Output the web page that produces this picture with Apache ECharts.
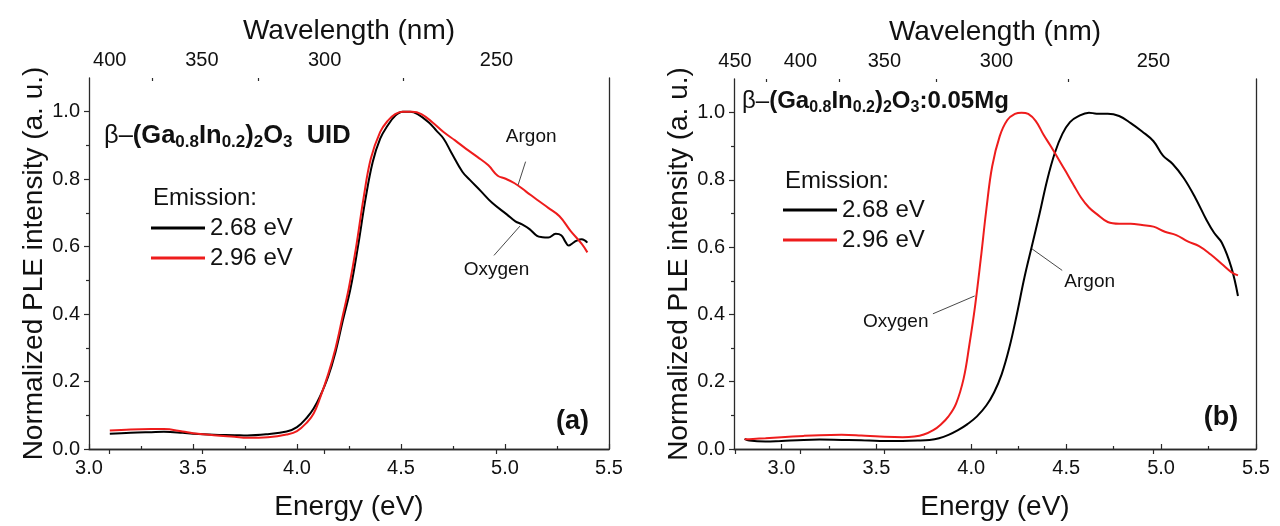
<!DOCTYPE html>
<html><head><meta charset="utf-8">
<script src="https://cdn.jsdelivr.net/npm/echarts@6/dist/echarts.min.js"></script>
<style>html,body{margin:0;padding:0;background:#fff}#c{width:1280px;height:526px}</style>
</head><body><div id="c"></div>
<script>
// ---------- data ----------
const seriesNames = ['2.68 eV', '2.96 eV'];
const energyTicks = [3.0, 3.5, 4.0, 4.5, 5.0, 5.5];
const energyMinorTicks = [3.25, 3.75, 4.25, 4.75, 5.25];
const wavelengthTicksA = [400, 350, 300, 250];
const wavelengthMinorA = [375, 325, 275];
const wavelengthTicksB = [450, 400, 350, 300, 250];
const wavelengthMinorB = [425, 375, 325, 275];
const yTicks = [0, 0.2, 0.4, 0.6, 0.8, 1.0];
const yMinorTicks = [0.1, 0.3, 0.5, 0.7, 0.9];

// Panel (a) UID: [energy eV, normalized PLE]
const uid268 = [[3.10,0.045],[3.20,0.048],[3.30,0.050],[3.36,0.051],[3.45,0.048],[3.50,0.045],[3.60,0.042],[3.70,0.041],[3.76,0.040],[3.86,0.044],[3.95,0.052],[4.00,0.065],[4.05,0.095],[4.08,0.120],[4.11,0.155],[4.15,0.215],[4.185,0.287],[4.22,0.380],[4.257,0.475],[4.293,0.600],[4.329,0.740],[4.364,0.851],[4.40,0.920],[4.436,0.959],[4.472,0.988],[4.508,1.0],[4.544,1.0],[4.58,0.993],[4.634,0.968],[4.67,0.944],[4.705,0.920],[4.741,0.880],[4.795,0.822],[4.831,0.798],[4.885,0.764],[4.938,0.730],[5.01,0.695],[5.05,0.675],[5.082,0.666],[5.118,0.652],[5.154,0.632],[5.18,0.628],[5.208,0.627],[5.244,0.638],[5.27,0.634],[5.29,0.615],[5.306,0.603],[5.325,0.610],[5.342,0.617],[5.369,0.622],[5.396,0.612]];
const uid296 = [[3.10,0.055],[3.20,0.058],[3.30,0.059],[3.36,0.059],[3.45,0.052],[3.50,0.047],[3.60,0.041],[3.70,0.036],[3.76,0.033],[3.86,0.035],[3.95,0.043],[4.00,0.053],[4.05,0.080],[4.08,0.105],[4.11,0.150],[4.15,0.222],[4.185,0.298],[4.22,0.395],[4.25,0.480],[4.284,0.598],[4.32,0.744],[4.355,0.861],[4.40,0.940],[4.436,0.973],[4.472,0.993],[4.508,1.0],[4.553,1.0],[4.598,0.993],[4.652,0.968],[4.706,0.939],[4.76,0.915],[4.813,0.890],[4.867,0.866],[4.92,0.841],[4.965,0.810],[5.0,0.802],[5.046,0.788],[5.10,0.764],[5.154,0.739],[5.208,0.715],[5.262,0.690],[5.315,0.647],[5.369,0.608],[5.396,0.583]];
// Panel (b) 0.05Mg
const mg268 = [[2.806,0.030],[2.83,0.025],[2.916,0.022],[3.0,0.024],[3.117,0.027],[3.2,0.028],[3.317,0.027],[3.42,0.026],[3.518,0.024],[3.638,0.024],[3.718,0.025],[3.78,0.027],[3.83,0.032],[3.88,0.042],[3.93,0.056],[3.98,0.074],[4.03,0.097],[4.08,0.130],[4.12,0.168],[4.16,0.222],[4.20,0.300],[4.24,0.400],[4.28,0.510],[4.32,0.605],[4.36,0.700],[4.40,0.800],[4.44,0.880],[4.48,0.937],[4.52,0.972],[4.56,0.988],[4.62,1.0],[4.66,0.997],[4.719,0.997],[4.779,0.990],[4.84,0.969],[4.90,0.944],[4.96,0.915],[5.01,0.872],[5.06,0.848],[5.12,0.805],[5.18,0.747],[5.24,0.680],[5.28,0.642],[5.32,0.613],[5.37,0.540],[5.405,0.455]];
const mg296 = [[2.806,0.029],[2.85,0.030],[2.916,0.032],[3.0,0.035],[3.117,0.039],[3.2,0.041],[3.317,0.042],[3.42,0.040],[3.518,0.037],[3.638,0.035],[3.70,0.037],[3.75,0.043],[3.80,0.056],[3.84,0.073],[3.88,0.097],[3.92,0.135],[3.96,0.210],[3.99,0.310],[4.02,0.425],[4.05,0.565],[4.08,0.715],[4.11,0.840],[4.15,0.930],[4.19,0.978],[4.23,0.996],[4.265,1.0],[4.30,0.996],[4.34,0.975],[4.38,0.935],[4.419,0.900],[4.459,0.862],[4.499,0.824],[4.539,0.785],[4.579,0.747],[4.62,0.718],[4.66,0.699],[4.719,0.675],[4.779,0.670],[4.84,0.670],[4.90,0.666],[4.96,0.661],[5.02,0.646],[5.08,0.636],[5.14,0.617],[5.20,0.603],[5.26,0.579],[5.32,0.550],[5.37,0.526],[5.405,0.516]];

// annotations: [label, textE, textV, tailE, tailV, tipE, tipV]
const notesA = [['Argon',5.126,0.925,5.099,0.852,5.063,0.783],['Oxygen',4.959,0.531,4.947,0.574,5.072,0.661]];
const notesB = [['Argon',4.624,0.497,4.479,0.531,4.32,0.595],['Oxygen',3.602,0.378,3.798,0.402,4.018,0.455]];
const panelTagA = ['(a)', 5.325, 0.08];
const panelTagB = ['(b)', 5.315, 0.093];

// ---------- chart ----------
const HC = 1239.84;
const FONT = '"Liberation Sans", Arial, sans-serif';
const AX = '#2a2a2a';
const BLACK = '#000000', RED = '#ee1c1c';

const grids = [
  {left: 89, top: 78, width: 520, height: 376.5},
  {left: 734, top: 79, width: 522, height: 380.3}
];
const xMin = [3.0, 2.75];

function xAxes(g, wl, wlMinor) {
  const base = {gridIndex: g, type: 'value', min: xMin[g], max: 5.5, splitLine: {show: false}};
  return [
    Object.assign({}, base, {position: 'bottom',
      axisLine: {show: true, lineStyle: {color: AX, width: 1.3}},
      axisTick: {show: true, inside: true, length: 5, customValues: energyTicks, lineStyle: {color: AX, width: 1.2}},
      axisLabel: {show: true, customValues: energyTicks, margin: 9, color: '#111', fontSize: 20, fontFamily: FONT, formatter: v => v.toFixed(1)},
      name: 'Energy (eV)', nameLocation: 'middle', nameGap: 44,
      nameTextStyle: {fontSize: 28, fontFamily: FONT, color: '#111'}}),
    Object.assign({}, base, {position: 'bottom',
      axisLine: {show: false},
      axisTick: {show: true, inside: true, length: 3, customValues: energyMinorTicks, lineStyle: {color: AX, width: 1.2}},
      axisLabel: {show: false}}),
    Object.assign({}, base, {position: 'top',
      axisLine: {show: true, lineStyle: {color: AX, width: 1.3}},
      axisTick: {show: true, inside: true, length: 5, customValues: wl.map(w => HC / w), lineStyle: {color: AX, width: 1.2}},
      axisLabel: {show: true, customValues: wl.map(w => HC / w), margin: 8, color: '#111', fontSize: 20, fontFamily: FONT, formatter: v => String(Math.round(HC / v))},
      name: 'Wavelength (nm)', nameLocation: 'middle', nameGap: 45,
      nameTextStyle: {fontSize: 28, fontFamily: FONT, color: '#111', verticalAlign: 'middle'}}),
    Object.assign({}, base, {position: 'top',
      axisLine: {show: false},
      axisTick: {show: true, inside: true, length: 3, customValues: wlMinor.map(w => HC / w), lineStyle: {color: AX, width: 1.2}},
      axisLabel: {show: false}})
  ];
}
function yAxes(g, gap) {
  const base = {gridIndex: g, type: 'value', min: 0, max: 1.1, splitLine: {show: false}};
  return [
    Object.assign({}, base, {position: 'left',
      axisLine: {show: true, lineStyle: {color: AX, width: 1.3}},
      axisTick: {show: true, inside: false, length: 5, customValues: yTicks, lineStyle: {color: AX, width: 1.2}},
      axisLabel: {show: true, customValues: yTicks, margin: 9, color: '#111', fontSize: 20, fontFamily: FONT, formatter: v => v.toFixed(1)},
      name: 'Normalized PLE intensity (a. u.)', nameLocation: 'middle', nameGap: gap, nameRotate: 90,
      nameTextStyle: {fontSize: 28, fontFamily: FONT, color: '#111', verticalAlign: 'middle'}}),
    Object.assign({}, base, {position: 'left',
      axisLine: {show: false},
      axisTick: {show: true, inside: false, length: 3, customValues: yMinorTicks, lineStyle: {color: AX, width: 1.2}},
      axisLabel: {show: false}}),
    Object.assign({}, base, {position: 'right',
      axisLine: {show: true, lineStyle: {color: AX, width: 1.3}},
      axisTick: {show: false}, axisLabel: {show: false}})
  ];
}

function lineSeries(name, data, color, xi, yi, extra) {
  return Object.assign({
    type: 'line', name: name, data: data, xAxisIndex: xi, yAxisIndex: yi,
    showSymbol: false, symbol: 'none', smooth: 0.4, animation: false,
    lineStyle: {color: color, width: 2}, itemStyle: {color: color}, z: 3
  }, extra || {});
}
function annotations(notes, tag) {
  return {
    markLine: {
      silent: true, animation: false, symbol: ['none', 'arrow'], symbolSize: [0, 9],
      label: {show: false},
      lineStyle: {color: '#333', width: 0.9, type: 'solid'},
      emphasis: {disabled: true},
      data: notes.map(n => [{coord: [n[3], n[4]]}, {coord: [n[5], n[6]]}])
    },
    markPoint: {
      silent: true, animation: false, symbol: 'circle', symbolSize: 1,
      itemStyle: {color: 'rgba(0,0,0,0)'},
      data: notes.map(n => ({name: n[0], coord: [n[1], n[2]],
        label: {show: true, position: 'inside', formatter: '{b}', color: '#111', fontSize: 19, fontFamily: FONT}}))
        .concat([{name: tag[0], coord: [tag[1], tag[2]],
        label: {show: true, position: 'inside', formatter: '{b}', color: '#111', fontSize: 27, fontWeight: 'bold', fontFamily: FONT}}])
    }
  };
}

function richStyles(main, sub) {
  return {
    g: {fontSize: main, fontFamily: FONT, lineHeight: 30, fill: '#111', color: '#111'},
    m: {fontSize: main, fontFamily: FONT, fontWeight: 'bold', lineHeight: 30, fill: '#111', color: '#111'},
    s: {fontSize: sub, fontFamily: FONT, fontWeight: 'bold', lineHeight: 12, verticalAlign: 'bottom', fill: '#111', color: '#111'}
  };
}
function titleText(x, y, txt, main, sub) {
  return {type: 'text', x: x, y: y, silent: true,
    style: {text: txt, rich: richStyles(main, sub), verticalAlign: 'middle', align: 'left', fill: '#111'}};
}
function plainText(x, y, txt) {
  return {type: 'text', x: x, y: y, silent: true,
    style: {text: txt, fontSize: 24, fontFamily: FONT, fill: '#111', verticalAlign: 'middle', align: 'left'}};
}

const legendBase = {orient: 'vertical', icon: 'rect', itemWidth: 54, itemHeight: 3, itemGap: 6, padding: 0,
  selectedMode: false, data: seriesNames,
  textStyle: {fontSize: 24, fontFamily: FONT, color: '#111', lineHeight: 24}};

const option = {
  backgroundColor: '#fff',
  animation: false,
  grid: grids,
  xAxis: xAxes(0, wavelengthTicksA, wavelengthMinorA).concat(xAxes(1, wavelengthTicksB, wavelengthMinorB)),
  yAxis: yAxes(0, 53).concat(yAxes(1, 45)),
  legend: [
    Object.assign({}, legendBase, {left: 151, top: 216}),
    Object.assign({}, legendBase, {left: 783, top: 198})
  ],
  series: [
    lineSeries(seriesNames[0], uid268, BLACK, 0, 0, annotations(notesA, panelTagA)),
    lineSeries(seriesNames[1], uid296, RED, 0, 0),
    lineSeries(seriesNames[0], mg268, BLACK, 4, 3, annotations(notesB, panelTagB)),
    lineSeries(seriesNames[1], mg296, RED, 4, 3)
  ],
  graphic: [
    titleText(104, 136, '{g|β–}{m|(Ga}{s|0.8}{m|In}{s|0.2}{m|)}{s|2}{m|O}{s|3}{m|  UID}', 25.5, 17),
    titleText(742, 101, '{g|β–}{m|(Ga}{s|0.8}{m|In}{s|0.2}{m|)}{s|2}{m|O}{s|3}{m|:0.05Mg}', 24, 16),
    plainText(153, 198, 'Emission:'),
    plainText(785, 181, 'Emission:')
  ]
};
const chart = echarts.init(document.getElementById('c'), null, {renderer: 'canvas'});
chart.setOption(option);
</script></body></html>
